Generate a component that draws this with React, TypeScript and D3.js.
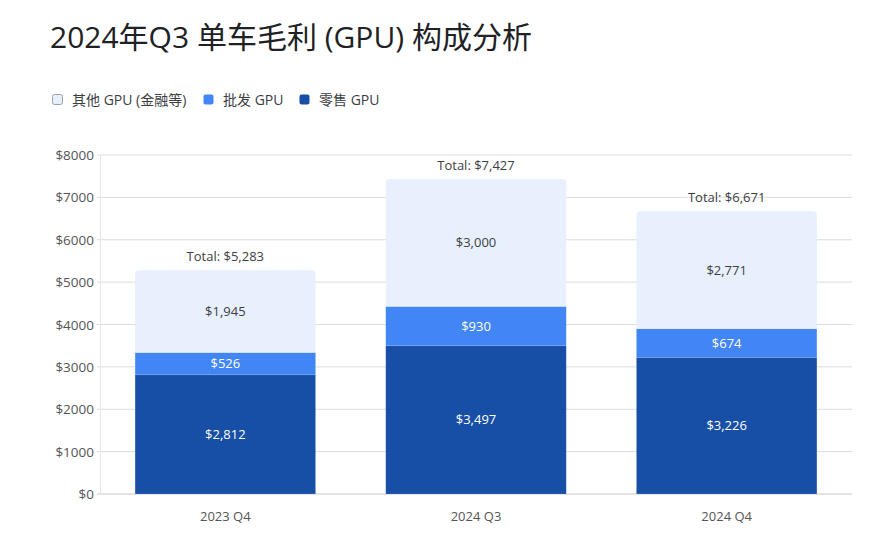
import React from "react";
import * as d3 from "d3";

const categories = ["2023 Q4", "2024 Q3", "2024 Q4"];
const retail = [2812, 3497, 3226];
const wholesale = [526, 930, 674];
const other = [1945, 3000, 2771];
const seriesNames = ["其他 GPU (金融等)", "批发 GPU", "零售 GPU"];
const yTicks = [0, 1000, 2000, 3000, 4000, 5000, 6000, 7000, 8000];

const W = 872;
const H = 544;
const M = { left: 100, right: 852, top: 155, bottom: 494 };
const FONT = "'Open Sans', 'Noto Sans CJK SC', sans-serif";
const colors = { other: "#E8F0FE", wholesale: "#4285F4", retail: "#174EA6" };

const fmt = (v: number) => "$" + d3.format(",")(v);

function topRounded(x: number, y: number, w: number, h: number, r: number) {
  const p = d3.path();
  p.moveTo(x, y + h);
  p.lineTo(x, y + r);
  p.arcTo(x, y, x + r, y, r);
  p.lineTo(x + w - r, y);
  p.arcTo(x + w, y, x + w, y + r, r);
  p.lineTo(x + w, y + h);
  p.closePath();
  return p.toString();
}

export default function App() {
  const x = d3.scaleBand<string>().domain(categories).range([M.left, M.right]).paddingInner(0.28).paddingOuter(0.14);
  const y = d3.scaleLinear().domain([0, 8000]).range([M.bottom, M.top]);
  const bw = x.bandwidth();

  const stackData = categories.map((c, i) => ({ cat: c, retail: retail[i], wholesale: wholesale[i], other: other[i] }));
  const stack = d3.stack<any>().keys(["retail", "wholesale", "other"])(stackData);

  const legendItems = [
    { label: seriesNames[0], color: colors.other, x: 52, stroke: "#9aa0a6" },
    { label: seriesNames[1], color: colors.wholesale, x: 203, stroke: "none" },
    { label: seriesNames[2], color: colors.retail, x: 299, stroke: "none" },
  ];

  return (
    <svg width={W} height={H} style={{ position: "absolute", left: 0, top: 0, background: "#fff" }} fontFamily={FONT}>
      <text x={50} y={48} fontSize={30} fill="#202124">2024年Q3 单车毛利 (GPU) 构成分析</text>

      {legendItems.map((l) => (
        <g key={l.label}>
          <rect x={l.x + 0.5} y={94.5} width={10} height={10} rx={2} fill={l.color} stroke={l.stroke} strokeWidth={1} />
          <text x={l.x + 20} y={104.5} fontSize={14} fill="#3c4043">{l.label}</text>
        </g>
      ))}

      {yTicks.map((t) => (
        <g key={t}>
          <line x1={M.left - 3} x2={M.right} y1={y(t)} y2={y(t)} stroke={t === 0 ? "#c8c8c8" : "#dcdcdc"} strokeWidth={1} />
          <text x={94} y={y(t) + 5} fontSize={13.5} fill="#555" textAnchor="end">{"$" + t}</text>
        </g>
      ))}
      <line x1={M.left + 0.5} x2={M.left + 0.5} y1={M.top} y2={M.bottom} stroke="#e6e6e6" />

      {stack.map((s) =>
        s.map((d, i) => {
          const x0 = x(categories[i])!;
          const y0 = y(d[1]);
          const h = y(d[0]) - y(d[1]);
          const key = s.key as "retail" | "wholesale" | "other";
          const val = d[1] - d[0];
          const isTop = key === "other";
          return (
            <g key={key + i}>
              {isTop ? (
                <path d={topRounded(x0, y0, bw, h, 4)} fill={colors[key]} />
              ) : (
                <rect x={x0} y={y0} width={bw} height={h} fill={colors[key]} stroke="rgba(255,255,255,0.25)" strokeWidth={0.5} />
              )}
              <text x={x0 + bw / 2} y={y0 + h / 2 + 4.5} fontSize={13} textAnchor="middle" fill={isTop ? "#3c4043" : "#ffffff"}>
                {fmt(val)}
              </text>
            </g>
          );
        })
      )}

      {categories.map((c, i) => {
        const total = retail[i] + wholesale[i] + other[i];
        return (
          <text key={c} x={x(c)! + bw / 2} y={y(total) - 9} fontSize={13} textAnchor="middle" fill="#3c4043">
            {"Total: " + fmt(total)}
          </text>
        );
      })}

      {categories.map((c) => (
        <text key={c} x={x(c)! + bw / 2} y={521} fontSize={13} textAnchor="middle" fill="#555">{c}</text>
      ))}
    </svg>
  );
}
